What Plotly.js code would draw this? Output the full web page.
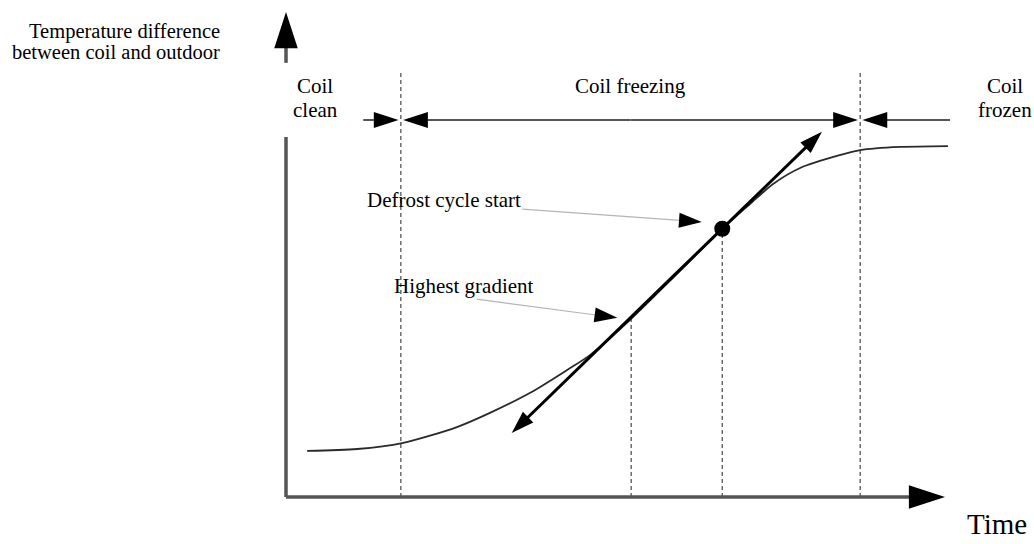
<!DOCTYPE html>
<html><head><meta charset="utf-8">
<script src="https://cdn.plot.ly/plotly-3.0.1.min.js"></script>
<style>html,body{margin:0;padding:0;background:#fff}#chart{width:1034px;height:544px}</style>
</head><body><div id="chart"></div>
<script>
// ---------------- data (schematic units: time 0..10, temperature difference 0..10) ----------------
const timeVals = [0.32, 1.08, 1.76, 2.59, 3.09, 3.70, 4.26, 4.61, 5.23, 5.97, 6.61, 7.03, 7.38, 7.79, 8.39, 8.70, 9.30, 10.03];
const tempDiff = [1.01, 1.05, 1.18, 1.53, 1.84, 2.28, 2.78, 3.11, 3.90, 4.95, 5.87, 6.41, 6.85, 7.20, 7.48, 7.59, 7.66, 7.68];

const phaseBounds = [1.74, 8.70];               // clean|freezing , freezing|frozen
const phaseLevel = 8.25;                        // height of the phase arrows
const phaseSpanX = [1.17, 10.06];               // left / right end of the phase arrow line
const dashTop = 9.30;                           // top of the phase boundary dashes

const gradientPoint = [5.23, 3.90];             // highest gradient
const defrostPoint = [6.61, 5.87];              // defrost cycle start
const tangentX = [3.42, 8.12];                  // tangent line ends
const tangentY = [1.40, 7.99];

const xAxisEnd = 9.985;                         // arrow tip of the time axis
const yAxisParts = [0, 7.88, 9.50, 10.61];      // y axis: lower part, gap, upper part to tip

const defrostPtrX = [3.58, 6.30], defrostPtrY = [6.30, 6.02];
const gradientPtrX = [2.89, 5.02], gradientPtrY = [4.33, 3.92];

const yTitleLines = ["Temperature difference", "between coil and outdoor"];
const phaseLabels = [["Coil", "clean"], ["Coil freezing"], ["Coil", "frozen"]];
const defrostLabel = "Defrost cycle start";
const gradientLabel = "Highest gradient";
const xTitle = "Time";

// ---------------- drawing ----------------
const W = 1034, H = 544;
const xRange = [-4.3333, 11.3333];
const yRange = [-1.0284, 10.8753];
const PX = v => v / W, PY = v => 1 - v / H;
const FONT = "Liberation Serif, Times New Roman, serif";

const traces = [];
const arrowLine = (xs, ys, color, width, size) => ({
  x: xs, y: ys, mode: 'lines+markers', hoverinfo: 'skip',
  line: {color: color, width: width},
  marker: {symbol: 'arrow', size: size, angleref: 'previous', color: '#000'}
});

// dashed verticals
phaseBounds.forEach(b => traces.push({x:[b,b], y:[0,dashTop], mode:'lines', hoverinfo:'skip',
  line:{color:'#555', width:1.3, dash:'4px,3px'}}));
[gradientPoint, defrostPoint].forEach(p => traces.push({x:[p[0],p[0]], y:[0,p[1]], mode:'lines', hoverinfo:'skip',
  line:{color:'#555', width:1.3, dash:'4px,3px'}}));

// curve
traces.push({x: timeVals, y: tempDiff, mode:'lines', hoverinfo:'skip',
  line:{color:'#2a2a2a', width:1.8, shape:'spline', smoothing:0.8}});

// axes
traces.push(arrowLine([0, xAxisEnd], [0, 0], '#555', 3.5, 38));
traces.push({x:[0,0], y:[yAxisParts[0], yAxisParts[1]], mode:'lines', hoverinfo:'skip', line:{color:'#555', width:3.5}});
traces.push(arrowLine([0, 0], [yAxisParts[2], yAxisParts[3]], '#555', 3.5, 38));

// phase arrows
const gap = 0.035;
const mid = (phaseBounds[0] + phaseBounds[1]) / 2;
traces.push(arrowLine([phaseSpanX[0], phaseBounds[0] - gap], [phaseLevel, phaseLevel], '#555', 2, 26));
traces.push(arrowLine([mid, phaseBounds[0] + gap], [phaseLevel, phaseLevel], '#555', 2, 26));
traces.push(arrowLine([mid, phaseBounds[1] - gap], [phaseLevel, phaseLevel], '#555', 2, 26));
traces.push(arrowLine([phaseSpanX[1], phaseBounds[1] + gap], [phaseLevel, phaseLevel], '#555', 2, 26));

// tangent line with arrows at both ends
const tmx = (tangentX[0] + tangentX[1]) / 2, tmy = (tangentY[0] + tangentY[1]) / 2;
traces.push(arrowLine([tmx, tangentX[0]], [tmy, tangentY[0]], '#000', 3, 24));
traces.push(arrowLine([tmx, tangentX[1]], [tmy, tangentY[1]], '#000', 3, 24));

// pointers
traces.push(arrowLine(defrostPtrX, defrostPtrY, '#b5b5b5', 1.2, 24));
traces.push(arrowLine(gradientPtrX, gradientPtrY, '#b5b5b5', 1.2, 24));

// defrost dot
traces.push({x:[defrostPoint[0]], y:[defrostPoint[1]], mode:'markers', hoverinfo:'skip',
  marker:{symbol:'circle', size:16, color:'#000'}});

// text
const fs = 21;
const txt = (text, x, y, xanchor, size) => ({text: text, x: x, y: y, xref:'paper', yref:'paper',
  xanchor: xanchor, yanchor:'middle', showarrow:false, font:{family:FONT, size: size || fs, color:'#000'}});
const annotations = [
  txt(yTitleLines[0], PX(222), PY(31), 'right', 20.5),
  txt(yTitleLines[1], PX(222), PY(52), 'right', 20.5),
  txt(phaseLabels[0][0], PX(315), PY(85.6), 'center'),
  txt(phaseLabels[0][1], PX(315), PY(109.6), 'center'),
  txt(phaseLabels[1][0], PX(630), PY(85.6), 'center'),
  txt(phaseLabels[2][0], PX(1005), PY(85.6), 'center'),
  txt(phaseLabels[2][1], PX(1005), PY(109.6), 'center'),
  txt(defrostLabel, PX(365), PY(199.6), 'left'),
  txt(gradientLabel, PX(392), PY(285.6), 'left'),
  txt(xTitle, PX(1029), PY(524), 'right', 29)
];

const layout = {
  width: W, height: H, margin: {l:0, r:0, t:0, b:0},
  paper_bgcolor: '#fff', plot_bgcolor: '#fff', showlegend: false,
  xaxis: {range: xRange, visible: false, fixedrange: true},
  yaxis: {range: yRange, visible: false, fixedrange: true},
  annotations: annotations
};
Plotly.newPlot('chart', traces, layout, {staticPlot: true, displayModeBar: false});
</script></body></html>
